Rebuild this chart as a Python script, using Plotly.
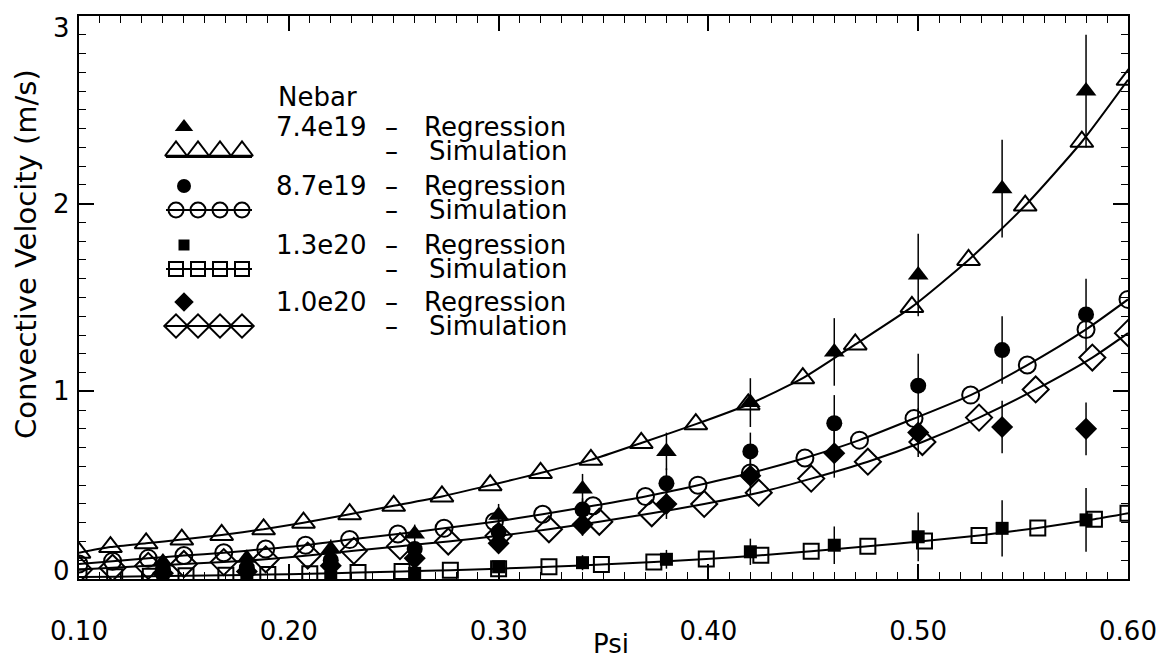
import plotly.graph_objects as go

# ---------------- data ----------------
# Simulation curves (open symbols)
tri_x = [0.100, 0.115, 0.132, 0.149, 0.168, 0.188, 0.207, 0.229, 0.250, 0.273, 0.296, 0.320,
         0.344, 0.368, 0.394, 0.419, 0.445, 0.470, 0.497, 0.524, 0.551, 0.578, 0.600]
tri_y = [0.14, 0.17, 0.19, 0.21, 0.235, 0.265, 0.30, 0.345, 0.39, 0.44, 0.50, 0.565,
         0.635, 0.725, 0.825, 0.93, 1.07, 1.25, 1.45, 1.70, 1.99, 2.33, 2.66]

circ_x = [0.100, 0.116, 0.133, 0.150, 0.169, 0.189, 0.208, 0.229, 0.252, 0.274, 0.298, 0.321,
          0.345, 0.370, 0.395, 0.420, 0.446, 0.472, 0.498, 0.525, 0.552, 0.580, 0.600]
circ_y = [0.08, 0.095, 0.11, 0.125, 0.14, 0.16, 0.18, 0.21, 0.24, 0.27, 0.305, 0.345,
          0.39, 0.44, 0.50, 0.565, 0.645, 0.74, 0.855, 0.98, 1.14, 1.33, 1.49]

dia_x = [0.100, 0.116, 0.133, 0.150, 0.169, 0.189, 0.209, 0.231, 0.253, 0.276, 0.300, 0.324,
         0.348, 0.373, 0.398, 0.424, 0.449, 0.476, 0.502, 0.529, 0.556, 0.583, 0.600]
dia_y = [0.05, 0.06, 0.07, 0.08, 0.09, 0.105, 0.125, 0.15, 0.175, 0.20, 0.23, 0.265,
         0.305, 0.35, 0.40, 0.46, 0.535, 0.625, 0.73, 0.86, 1.01, 1.18, 1.31]

sq_x = [0.100, 0.117, 0.134, 0.151, 0.170, 0.190, 0.210, 0.233, 0.254, 0.277, 0.300, 0.324,
        0.349, 0.374, 0.399, 0.425, 0.449, 0.476, 0.503, 0.529, 0.557, 0.584, 0.600]
sq_y = [0.01, 0.012, 0.014, 0.017, 0.02, 0.024, 0.028, 0.034, 0.04, 0.047, 0.055, 0.065,
        0.077, 0.091, 0.107, 0.126, 0.148, 0.174, 0.202, 0.232, 0.272, 0.318, 0.35]

# Regression points (filled symbols with error bars)
reg_x = [0.14, 0.18, 0.22, 0.26, 0.30, 0.34, 0.38, 0.42, 0.46, 0.50, 0.54, 0.58]
reg_tri = [0.09, 0.11, 0.16, 0.24, 0.34, 0.48, 0.68, 0.94, 1.21, 1.62, 2.08, 2.60]
reg_tri_err = [0.04, 0.04, 0.05, 0.05, 0.06, 0.08, 0.10, 0.13, 0.18, 0.22, 0.26, 0.30]
reg_circ = [0.05, 0.06, 0.10, 0.16, 0.25, 0.37, 0.51, 0.68, 0.83, 1.03, 1.22, 1.41]
reg_circ_err = [0.03, 0.03, 0.04, 0.04, 0.05, 0.06, 0.08, 0.10, 0.15, 0.17, 0.18, 0.19]
reg_dia = [0.03, 0.04, 0.07, 0.11, 0.19, 0.29, 0.40, 0.55, 0.67, 0.78, 0.81, 0.80]
reg_dia_err = [0.03, 0.03, 0.04, 0.04, 0.05, 0.06, 0.08, 0.10, 0.13, 0.13, 0.14, 0.14]
reg_sq = [0.0, 0.005, 0.01, 0.03, 0.065, 0.087, 0.105, 0.145, 0.18, 0.225, 0.27, 0.315]
reg_sq_err = [0.02, 0.02, 0.02, 0.03, 0.03, 0.04, 0.05, 0.07, 0.10, 0.13, 0.15, 0.17]

x_ticks = [0.10, 0.20, 0.30, 0.40, 0.50, 0.60]
x_ticklabels = ["0.10", "0.20", "0.30", "0.40", "0.50", "0.60"]
y_ticks = [0, 1, 2, 3]
y_ticklabels = ["0", "1", "2", "3"]

x_title = "Psi"
y_title = "Convective Velocity (m/s)"
legend_title = "Nebar"
legend_dens = ["7.4e19", "8.7e19", "1.3e20", "1.0e20"]

# ---------------- styling ----------------
FONT = "DejaVu Sans"
BLACK = "black"
W, H = 1173, 657
L, R, T, B = 71, 1120, 8, 571   # plot area in pixels


def px(xp):
    return (xp - L) / (R - L)


def py(yp):
    return (B - yp) / (B - T)


fig = go.Figure()

sims = [
    (tri_x, tri_y, "triangle-up-open", 20),
    (circ_x, circ_y, "circle-open", 17),
    (sq_x, sq_y, "square-open", 15),
    (dia_x, dia_y, "diamond-open", 20),
]
for xs, ys, sym, sz in sims:
    fig.add_trace(go.Scatter(
        x=xs, y=ys, mode="lines+markers",
        line=dict(color=BLACK, width=2, shape="spline", smoothing=0.6),
        marker=dict(symbol=sym, size=sz, color=BLACK, line=dict(width=2, color=BLACK)),
        showlegend=False, hoverinfo="skip"))

regs = [
    (reg_tri, reg_tri_err, "triangle-up", 18),
    (reg_circ, reg_circ_err, "circle", 16),
    (reg_sq, reg_sq_err, "square", 13),
    (reg_dia, reg_dia_err, "diamond", 17),
]
for ys, errs, sym, sz in regs:
    fig.add_trace(go.Scatter(
        x=reg_x, y=ys, mode="markers",
        marker=dict(symbol=sym, size=sz, color=BLACK, line=dict(width=0)),
        error_y=dict(type="data", array=errs, visible=True, width=0, thickness=1.5, color=BLACK),
        showlegend=False, hoverinfo="skip"))

# ---------------- legend (drawn in pixel space on overlay axes) ----------------
reg_row_y = [119, 178, 237, 294]      # regression rows (pixels from top)
sim_row_y = [143, 202, 261, 318]      # simulation rows
filled_x = 176
open_xs = [168, 190, 212, 234]
row_marks = [("triangle-up", 16), ("circle", 14), ("square", 11), ("diamond", 15)]
open_marks = [("triangle-up-open", 19), ("circle-open", 15), ("square-open", 14), ("diamond-open", 18)]
for i in range(4):
    fig.add_trace(go.Scatter(
        x=[filled_x], y=[reg_row_y[i]], xaxis="x2", yaxis="y2", mode="markers",
        marker=dict(symbol=row_marks[i][0], size=row_marks[i][1], color=BLACK),
        showlegend=False, hoverinfo="skip"))
    ly = sim_row_y[i] + (6 if i == 0 else 0)
    fig.add_trace(go.Scatter(
        x=[158, 244], y=[ly, ly], xaxis="x2", yaxis="y2", mode="lines",
        line=dict(color=BLACK, width=2), showlegend=False, hoverinfo="skip"))
    fig.add_trace(go.Scatter(
        x=open_xs, y=[sim_row_y[i]] * 4, xaxis="x2", yaxis="y2", mode="markers",
        marker=dict(symbol=open_marks[i][0], size=open_marks[i][1], color=BLACK,
                    line=dict(width=2, color=BLACK)),
        showlegend=False, hoverinfo="skip"))

# invisible trace so the mirrored (top / right) tick axes are drawn
fig.add_trace(go.Scatter(x=[None], y=[None], xaxis="x3", yaxis="y3", showlegend=False,
                         hoverinfo="skip"))

annots = []
TF = dict(family=FONT, size=26, color=BLACK)
annots.append(dict(x=px(268), y=py(89), xref="paper", yref="paper", text=legend_title,
                   showarrow=False, xanchor="left", yanchor="middle", font=TF))
for i in range(4):
    annots.append(dict(x=px(360), y=py(reg_row_y[i]), xref="paper", yref="paper",
                       text=legend_dens[i], showarrow=False, xanchor="right",
                       yanchor="middle", font=TF))
    for yy, word, xw in ((reg_row_y[i], "Regression", 414), (sim_row_y[i], "Simulation", 419)):
        annots.append(dict(x=px(383), y=py(yy), xref="paper", yref="paper", text="–",
                           showarrow=False, xanchor="center", yanchor="middle", font=TF))
        annots.append(dict(x=px(xw), y=py(yy), xref="paper", yref="paper", text=word,
                           showarrow=False, xanchor="left", yanchor="middle", font=TF))

# y tick labels (the end labels sit just inside the frame, as in the original)
for v, lab in zip(y_ticks, y_ticklabels):
    shift = -12 if v == y_ticks[-1] else (8 if v == y_ticks[0] else 0)
    annots.append(dict(x=px(64), y=v, xref="paper", yref="y", text=lab, showarrow=False,
                       xanchor="right", yanchor="middle", yshift=shift,
                       font=dict(family=FONT, size=26, color=BLACK)))

# axis titles
annots.append(dict(x=px(603), y=py(636), xref="paper", yref="paper", text=x_title,
                   showarrow=False, xanchor="center", yanchor="middle",
                   font=dict(family=FONT, size=26, color=BLACK)))
annots.append(dict(x=px(18), y=py(246), xref="paper", yref="paper", text=y_title,
                   showarrow=False, xanchor="center", yanchor="middle", textangle=-90,
                   font=dict(family=FONT, size=29, color=BLACK)))

axis_common = dict(
    showline=True, linecolor=BLACK, linewidth=2, automargin=False,
    ticks="inside", ticklen=15, tickwidth=1.5, tickcolor=BLACK,
    showgrid=False, zeroline=False,
    tickfont=dict(family=FONT, size=26, color=BLACK),
)

fig.update_layout(
    width=W, height=H,
    margin=dict(l=L, r=W - R, t=T, b=H - B, autoexpand=False),
    paper_bgcolor="white", plot_bgcolor="white",
    showlegend=False,
    xaxis=dict(range=[0.1, 0.6], tickvals=x_ticks, ticktext=x_ticklabels,
               minor=dict(ticks="inside", dtick=0.01, ticklen=7, tickwidth=1, tickcolor=BLACK),
               ticklabelstandoff=28, ticklabeloverflow="allow", **axis_common),
    yaxis=dict(range=[0, 3.0001], tickvals=y_ticks, showticklabels=False,
               minor=dict(ticks="inside", dtick=0.1, ticklen=7, tickwidth=1, tickcolor=BLACK),
               **axis_common),
    xaxis3=dict(range=[0.1, 0.6], overlaying="x", side="top", tickvals=x_ticks,
                showticklabels=False,
                minor=dict(ticks="inside", dtick=0.01, ticklen=7, tickwidth=1, tickcolor=BLACK),
                **axis_common),
    yaxis3=dict(range=[0, 3.0001], overlaying="y", side="right", tickvals=y_ticks,
                showticklabels=False,
                minor=dict(ticks="inside", dtick=0.1, ticklen=7, tickwidth=1, tickcolor=BLACK),
                **axis_common),
    xaxis2=dict(range=[L, R], overlaying="x", visible=False, fixedrange=True, automargin=False),
    yaxis2=dict(range=[B, T], overlaying="y", visible=False, fixedrange=True, automargin=False),
    annotations=annots,
)

fig.write_html("out.html")
